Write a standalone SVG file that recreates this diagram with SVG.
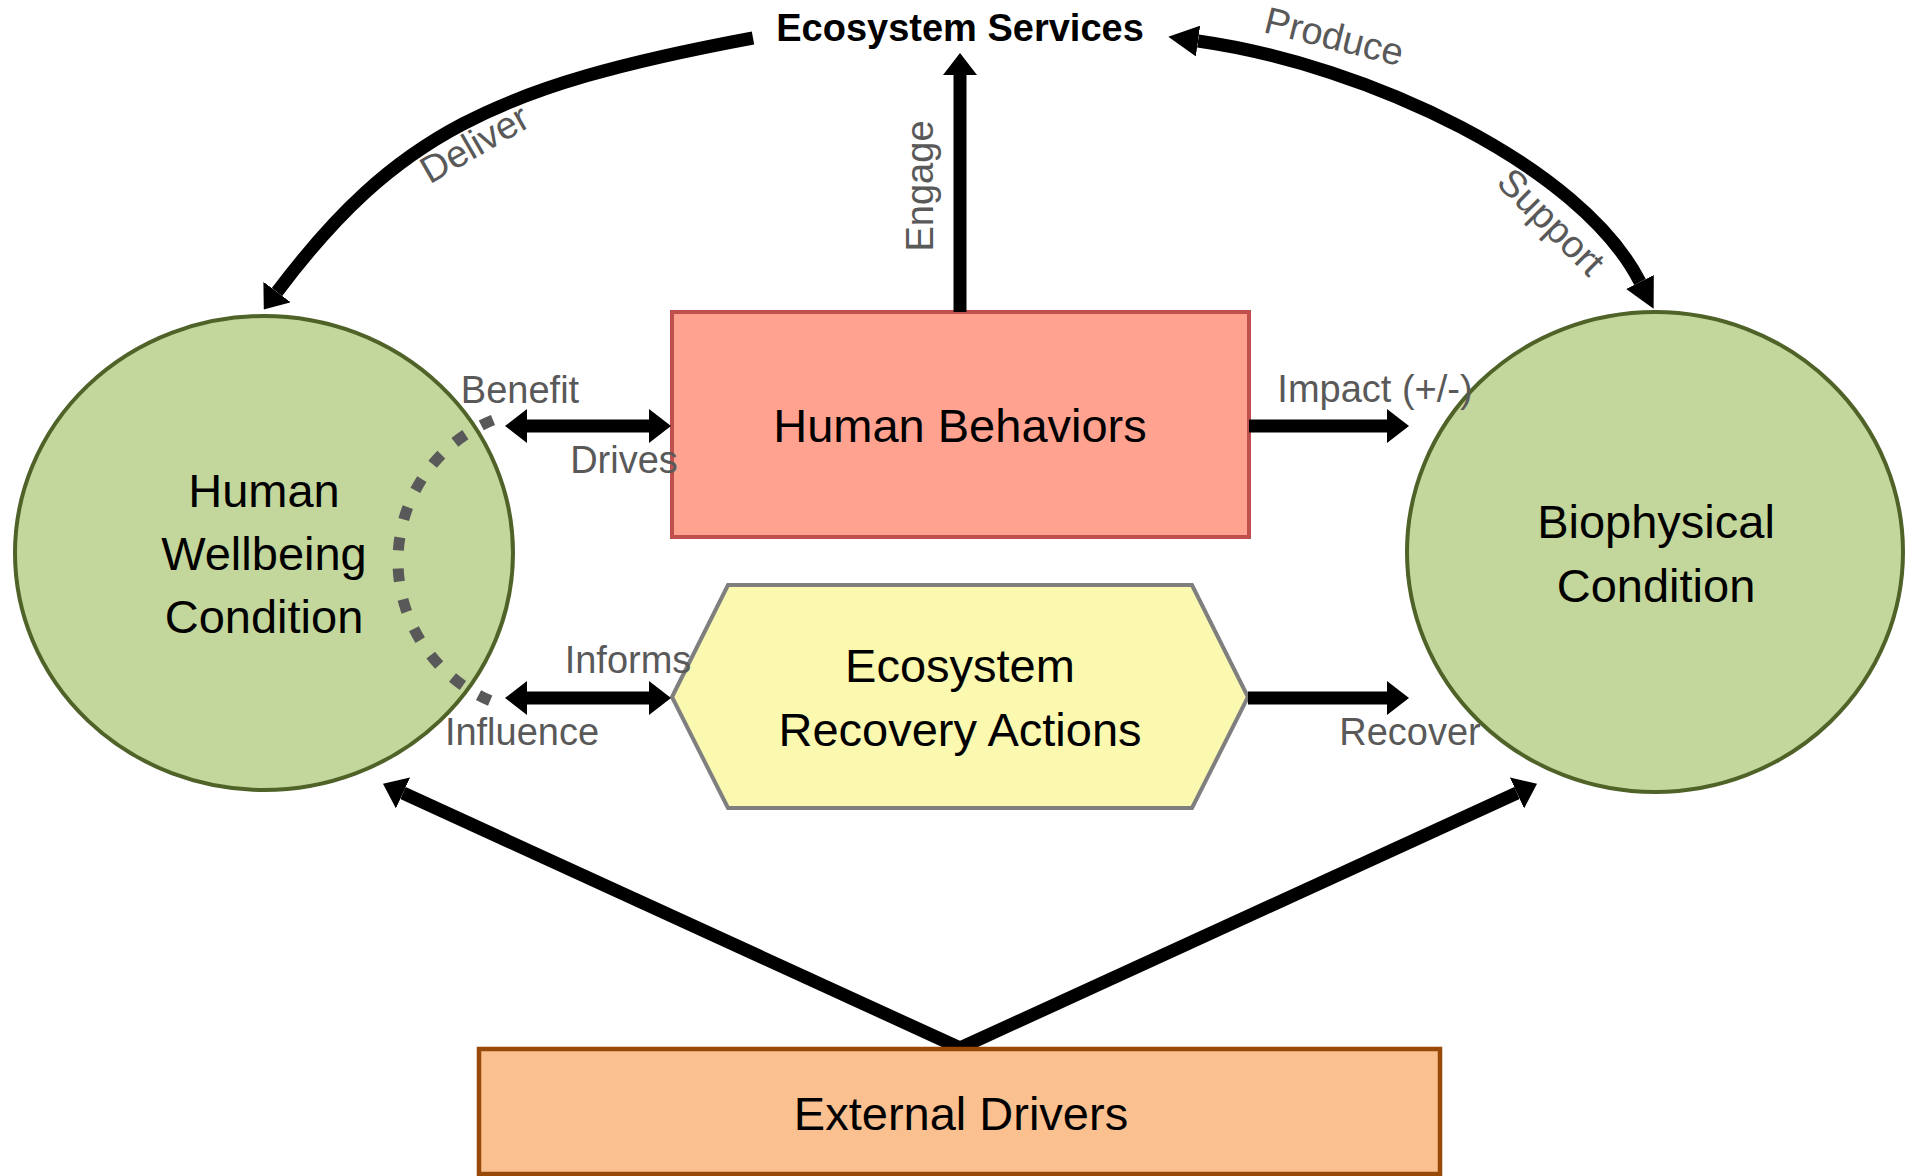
<svg xmlns="http://www.w3.org/2000/svg" width="1905" height="1176" viewBox="0 0 1905 1176">
<defs>
<style>
.nt{font-family:"Liberation Sans",Arial,sans-serif;font-size:47px;fill:#000;text-anchor:middle}
.lbl{font-family:"Liberation Sans",Arial,sans-serif;font-size:38px;fill:#595959;text-anchor:middle}
.conn{fill:none;stroke:#000;stroke-width:13;stroke-linecap:butt}
.cond{fill:#C3D69B;stroke:#4F6228;stroke-width:4}
</style>
<marker id="ah" markerUnits="userSpaceOnUse" markerWidth="22" markerHeight="34" viewBox="0 0 22 34" refX="0" refY="17" orient="auto-start-reverse">
<path d="M0,0 L22,17 L0,34 z" fill="#000"/>
</marker>
<marker id="ahL" markerUnits="userSpaceOnUse" markerWidth="30" markerHeight="31" viewBox="0 0 30 31" refX="0" refY="15.5" orient="auto-start-reverse">
<path d="M0,0 L30,15.5 L0,31 z" fill="#000"/>
</marker>
</defs>
<rect width="1905" height="1176" fill="#ffffff"/>

<g id="human-wellbeing">
<ellipse class="cond" cx="264" cy="553" rx="249" ry="237"/>
<text class="nt" x="264" y="507">Human</text>
<text class="nt" x="264" y="570">Wellbeing</text>
<text class="nt" x="264" y="633">Condition</text>
</g>

<g id="biophysical">
<ellipse class="cond" cx="1655" cy="552" rx="248" ry="240"/>
<text class="nt" x="1656" y="538">Biophysical</text>
<text class="nt" x="1656" y="602">Condition</text>
</g>

<g id="human-behaviors">
<rect x="672" y="312" width="577" height="225" fill="#FFA290" stroke="#C0504D" stroke-width="4"/>
<text class="nt" x="960" y="442">Human Behaviors</text>
</g>

<g id="recovery-actions">
<polygon points="672,697 728,585 1192,585 1248,697 1192,808 728,808" fill="#FBF8AF" stroke="#7F7F7F" stroke-width="4"/>
<text class="nt" x="960" y="682">Ecosystem</text>
<text class="nt" x="960" y="746">Recovery Actions</text>
</g>

<g id="ecosystem-services">
<text x="960" y="41" font-family="Liberation Sans, Arial, sans-serif" font-size="38" font-weight="bold" fill="#000" text-anchor="middle">Ecosystem Services</text>
</g>

<g id="connectors">
<path class="conn" d="M753 38 C495 86 395 135 277 292" marker-end="url(#ah)"/>
<path class="conn" d="M1198 41 C1368 65 1581 166 1640 282" marker-start="url(#ahL)" marker-end="url(#ahL)"/>
<line class="conn" x1="960" y1="312" x2="960" y2="75" stroke-width="11" marker-end="url(#ah)"/>
<line class="conn" x1="527" y1="426" x2="649" y2="426" marker-start="url(#ah)" marker-end="url(#ah)"/>
<line class="conn" x1="527" y1="698" x2="649" y2="698" marker-start="url(#ah)" marker-end="url(#ah)"/>
<line class="conn" x1="1249" y1="426" x2="1387" y2="426" marker-end="url(#ah)"/>
<line class="conn" x1="1248" y1="698" x2="1387" y2="698" marker-end="url(#ah)"/>
<line class="conn" x1="960" y1="1048" x2="403" y2="793" stroke-width="12" marker-end="url(#ah)"/>
<line class="conn" x1="960" y1="1048" x2="1517" y2="793" stroke-width="12" marker-end="url(#ah)"/>
<path d="M493 420 A152 152 0 0 0 491 701" fill="none" stroke="#595959" stroke-width="11" stroke-dasharray="13 18.3"/>
<text class="lbl" transform="translate(481 155) rotate(-30)">Deliver</text>
<text class="lbl" transform="translate(1331 49) rotate(14)">Produce</text>
<text class="lbl" transform="translate(1542 231) rotate(45)">Support</text>
<text class="lbl" transform="translate(933 186) rotate(-90)">Engage</text>
<text class="lbl" x="520" y="403">Benefit</text>
<text class="lbl" x="624" y="473">Drives</text>
<text class="lbl" x="628" y="673">Informs</text>
<text class="lbl" x="522" y="745">Influence</text>
<text class="lbl" x="1375" y="402">Impact (+/-)</text>
<text class="lbl" x="1410" y="745">Recover</text>
</g>

<g id="external-drivers">
<rect x="479" y="1049" width="961" height="125" fill="#FAC090" stroke="#984807" stroke-width="4.5"/>
<text class="nt" x="961" y="1130">External Drivers</text>
</g>
</svg>
